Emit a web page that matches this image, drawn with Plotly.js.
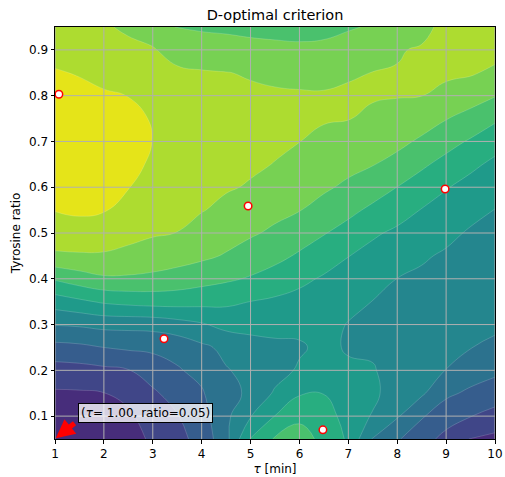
<!DOCTYPE html>
<html>
<head>
<meta charset="utf-8">
<script src="https://cdn.plot.ly/plotly-3.0.1.min.js"></script>
<style>html,body{margin:0;padding:0;background:#fff;}#chart{width:505px;height:477px;}</style>
</head>
<body>
<div id="chart"></div>
<script>
// grid coordinates
const tauGrid = [1, 1.5, 2, 2.5, 3, 3.5, 4, 4.5, 5, 5.5, 6, 6.5, 7, 7.5, 8, 8.5, 9, 9.5, 10];
const ratioGrid = [0.05, 0.10, 0.15, 0.20, 0.25, 0.30, 0.35, 0.40, 0.45, 0.50, 0.55, 0.60, 0.65, 0.70, 0.75, 0.80, 0.85, 0.90, 0.95];

// criterion values, one array per tau column (bottom -> top in ratio)
const criterionByTau = [
  [1.2, 1.54, 1.88, 2.58, 3.69, 5.05, 6.5, 8.11, 9.85, 10.52, 11.03, 11.19, 11.34, 11.5, 11.35, 11.2, 11.05, 10.79, 10.5],
  [1.15, 1.53, 1.9, 2.65, 3.79, 5.13, 6.81, 8.53, 9.89, 10.59, 11.15, 11.25, 11.38, 11.48, 11.34, 11.17, 10.96, 10.68, 10.4],
  [1.1, 1.54, 1.98, 2.79, 4.0, 5.29, 7.13, 8.85, 9.89, 10.51, 11.05, 11.18, 11.32, 11.36, 11.24, 11.08, 10.8, 10.44, 10.1],
  [1.4, 1.8, 2.32, 2.96, 4.15, 5.3, 7.3, 8.85, 9.75, 10.28, 10.75, 11.03, 11.2, 11.24, 11.15, 10.99, 10.6, 10.22, 9.85],
  [2.25, 2.55, 2.85, 3.45, 4.2, 5.35, 7.4, 8.75, 9.6, 10.09, 10.31, 10.55, 10.9, 10.99, 10.96, 10.6, 10.3, 10.05, 9.7],
  [2.7, 2.95, 3.4, 3.9, 4.35, 5.6, 7.4, 8.59, 9.4, 9.99, 10.15, 10.3, 10.45, 10.6, 10.44, 10.28, 10.11, 9.75, 8.92],
  [3.35, 3.62, 3.89, 4.3, 4.8, 5.9, 7.31, 8.36, 9.19, 9.67, 10.04, 10.17, 10.3, 10.42, 10.34, 10.2, 10.06, 9.59, 8.85],
  [4.7, 4.78, 4.86, 4.94, 5.23, 6.3, 7.2, 8.15, 8.92, 9.38, 9.81, 10.07, 10.18, 10.3, 10.27, 10.15, 10.02, 9.45, 8.8],
  [7.1, 5.95, 5.08, 5.25, 5.65, 6.29, 6.99, 7.91, 8.56, 9.12, 9.53, 9.94, 10.1, 10.23, 10.25, 10.12, 9.94, 9.35, 8.7],
  [8.1, 7.02, 6.15, 5.55, 5.8, 6.3, 6.84, 7.58, 8.28, 8.83, 9.25, 9.62, 9.98, 10.11, 10.18, 10.08, 9.87, 9.31, 8.6],
  [8.4, 7.8, 6.9, 6.15, 5.85, 6.32, 6.72, 7.2, 7.87, 8.47, 9.03, 9.37, 9.7, 10.01, 10.13, 10.07, 9.81, 9.28, 8.5],
  [7.75, 7.35, 6.98, 6.55, 6.3, 6.35, 6.6, 6.9, 7.4, 8.06, 8.65, 9.14, 9.48, 9.83, 10.06, 10.05, 9.84, 9.37, 8.55],
  [6.85, 6.7, 6.5, 6.2, 5.88, 5.95, 6.29, 6.65, 7.02, 7.64, 8.24, 8.82, 9.26, 9.64, 10.02, 10.07, 9.95, 9.45, 8.9],
  [4.9, 5.9, 6.3, 6.1, 5.8, 5.75, 5.98, 6.34, 6.71, 7.13, 7.8, 8.44, 9.04, 9.48, 9.91, 10.04, 10.01, 9.64, 9.1],
  [4.1, 5.1, 5.3, 5.45, 5.6, 5.73, 5.86, 5.99, 6.42, 6.83, 7.38, 7.99, 8.67, 9.26, 9.77, 10.03, 10.04, 9.94, 9.6],
  [3.4, 4.1, 5.15, 5.2, 5.37, 5.53, 5.7, 5.87, 6.09, 6.53, 6.96, 7.54, 8.16, 8.84, 9.46, 10.01, 10.1, 10.08, 9.75],
  [2.7, 3.44, 4.19, 4.99, 5.18, 5.36, 5.54, 5.72, 5.9, 6.19, 6.62, 7.06, 7.69, 8.35, 9.04, 9.76, 10.15, 10.28, 10.25],
  [1.95, 3.03, 3.82, 4.48, 5.02, 5.2, 5.38, 5.56, 5.73, 5.91, 6.23, 6.68, 7.21, 7.89, 8.66, 9.42, 10.1, 10.35, 10.55],
  [1.75, 2.67, 3.49, 4.22, 4.85, 5.13, 5.3, 5.47, 5.64, 5.81, 5.98, 6.36, 6.79, 7.38, 8.16, 9.05, 9.8, 10.35, 10.65]
];

// design points
const designTau = [1.08, 4.95, 8.98, 3.23, 6.48];
const designRatio = [0.803, 0.559, 0.596, 0.269, 0.07];

// ticks
const tauTicks = [1, 2, 3, 4, 5, 6, 7, 8, 9, 10];
const ratioTicks = [0.1, 0.2, 0.3, 0.4, 0.5, 0.6, 0.7, 0.8, 0.9];

// annotated point
const annotTau = 1.00;
const annotRatio = 0.05;

// band colours (viridis, 12 levels)
const bandColors = ['#471164', '#472d7b', '#404688', '#365d8d', '#2c728e', '#24868e',
                    '#1f9a8a', '#28ae80', '#4ac16d', '#77d153', '#addc30', '#e5e419'];

const levelStart = 1, levelEnd = 11, levelSize = 1;

// build z (rows = ratio, cols = tau)
const z = ratioGrid.map((_, j) => tauGrid.map((_, i) => criterionByTau[i][j]));

// stepped colorscale: band k centred at k/11
const nb = bandColors.length;
const colorscale = [];
bandColors.forEach((c, k) => {
  const lo = Math.max(0, (k - 0.5) / (nb - 1));
  const hi = Math.min(1, (k + 0.5) / (nb - 1));
  colorscale.push([lo, c]);
  colorscale.push([hi, c]);
});

const contour = {
  type: 'contour',
  x: tauGrid, y: ratioGrid, z: z,
  autocontour: false,
  contours: {start: levelStart, end: levelEnd, size: levelSize, coloring: 'fill', showlines: true},
  line: {width: 0.6, color: 'rgba(255,255,255,0.28)', smoothing: 1.3},
  colorscale: colorscale,
  showscale: false,
  hoverinfo: 'skip'
};

// grid lines drawn over the contour fill
const gx = [], gy = [];
tauTicks.forEach(t => { gx.push(t, t, null); gy.push(ratioGrid[0], ratioGrid[ratioGrid.length - 1], null); });
ratioTicks.forEach(r => { gx.push(tauGrid[0], tauGrid[tauGrid.length - 1], null); gy.push(r, r, null); });
const grid = {
  type: 'scatter', mode: 'lines', x: gx, y: gy,
  line: {color: '#b0b0b0', width: 1}, hoverinfo: 'skip', connectgaps: false
};

const points = {
  type: 'scatter', mode: 'markers', x: designTau, y: designRatio,
  marker: {size: 7.5, color: 'white', line: {color: 'red', width: 1.5}},
  hoverinfo: 'skip'
};

const axisCommon = {
  ticks: 'outside', ticklen: 3.5, tickwidth: 1, tickcolor: 'black',
  showline: true, mirror: true, linecolor: 'black', linewidth: 1,
  showgrid: false, zeroline: false,
  tickfont: {size: 12, color: 'black', family: 'DejaVu Sans, sans-serif'}
};

const layout = {
  width: 505, height: 477,
  margin: {l: 55, r: 10, t: 27, b: 38, pad: 0},
  paper_bgcolor: 'white', plot_bgcolor: 'white',
  font: {family: 'DejaVu Sans, sans-serif', size: 12, color: 'black'},
  showlegend: false,
  title: {text: 'D-optimal criterion', font: {size: 14.5, color: 'black'},
          x: 0.5, xref: 'paper', xanchor: 'center', y: 1 - 15 / 477, yref: 'container', yanchor: 'middle'},
  xaxis: Object.assign({}, axisCommon, {
    range: [tauGrid[0], tauGrid[tauGrid.length - 1]], tickvals: tauTicks,
    title: {text: '<i>τ</i> [min]', font: {size: 12}, standoff: 4}
  }),
  yaxis: Object.assign({}, axisCommon, {
    range: [ratioGrid[0], ratioGrid[ratioGrid.length - 1]], tickvals: ratioTicks, tickformat: '.1f',
    title: {text: 'Tyrosine ratio', font: {size: 12}, standoff: 5}
  }),
  annotations: [
    {x: annotTau, y: annotRatio, xref: 'x', yref: 'y', showarrow: true, text: '',
     ax: 21, ay: -17, arrowcolor: 'red', arrowwidth: 5, arrowhead: 2, arrowsize: 0.75, standoff: 1},
    {x: annotTau, y: annotRatio, xref: 'x', yref: 'y', showarrow: false,
     text: '(<i>τ</i>= ' + annotTau.toFixed(2) + ', ratio=' + annotRatio.toFixed(2) + ')',
     xshift: 90.5, yshift: 26.5, font: {size: 12, color: 'black'},
     bgcolor: 'rgba(255,255,255,0.78)', bordercolor: 'black', borderwidth: 1, borderpad: 2}
  ]
};

Plotly.newPlot('chart', [contour, grid, points], layout, {displayModeBar: false, staticPlot: true});
</script>
</body>
</html>
